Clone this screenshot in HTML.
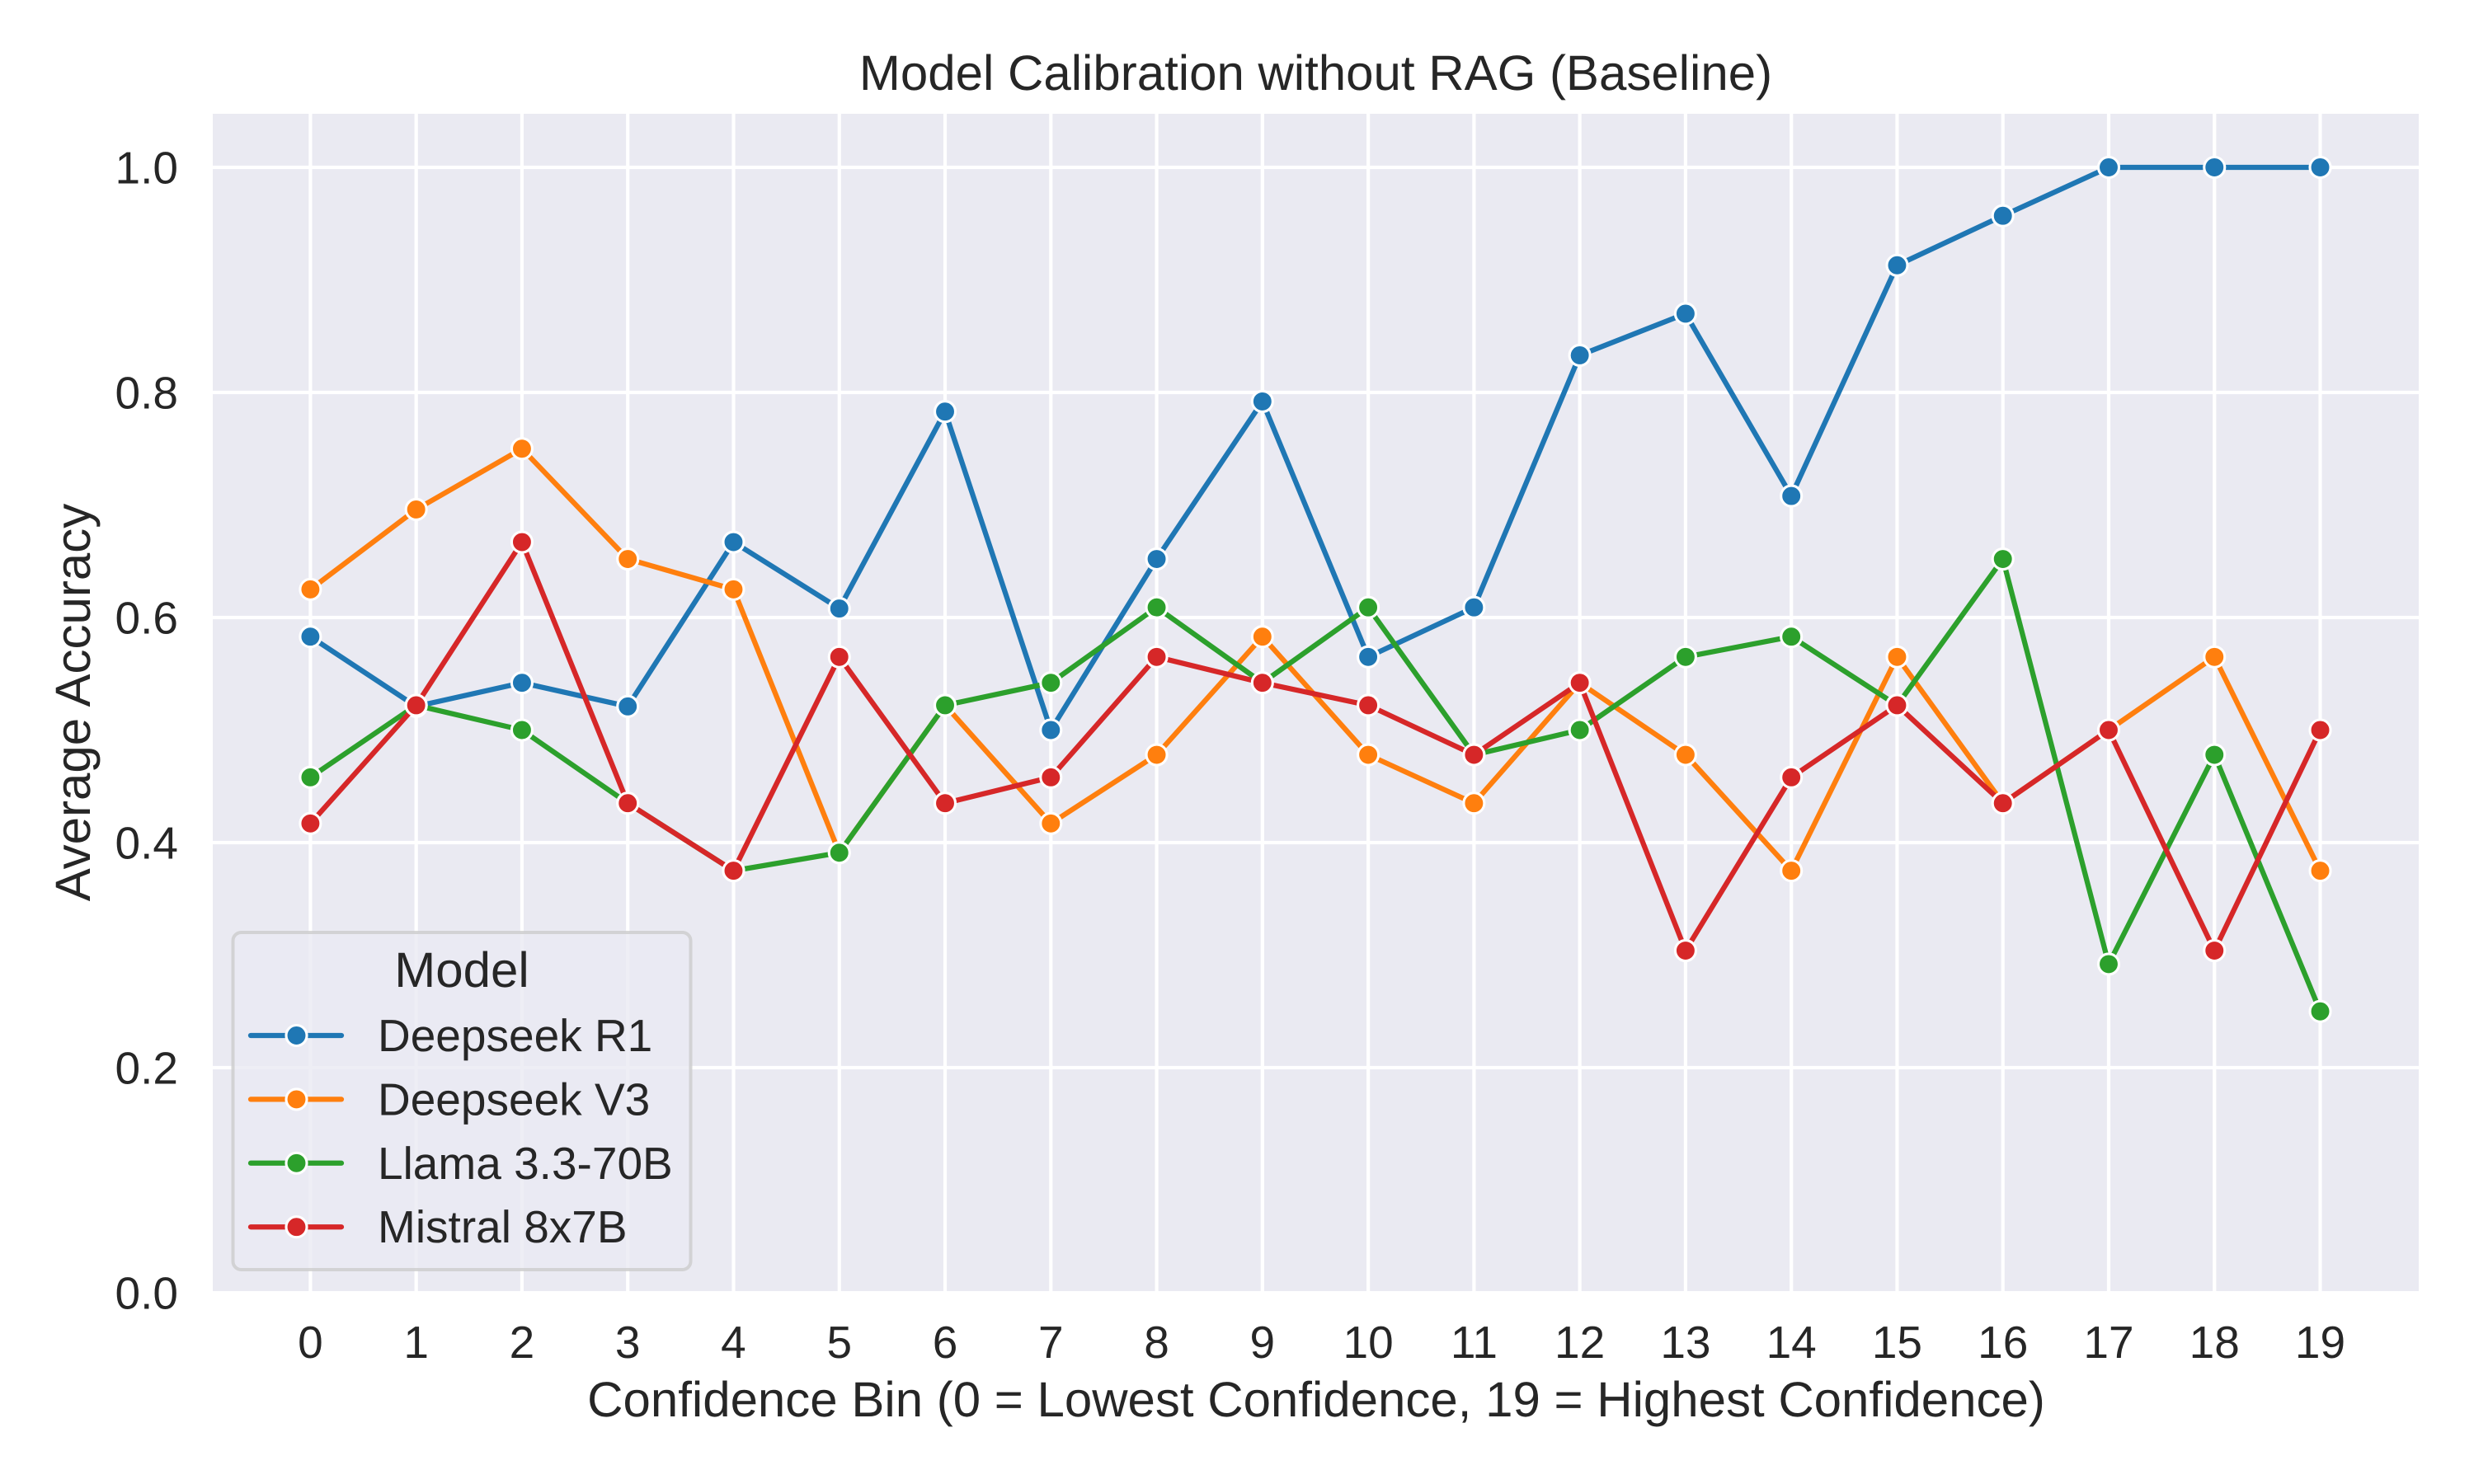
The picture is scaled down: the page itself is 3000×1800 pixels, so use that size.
<!DOCTYPE html>
<html lang="en">
<head>
<meta charset="utf-8">
<title>Model Calibration without RAG (Baseline)</title>
<style>
html,body{margin:0;padding:0;background:#fff;}
svg{display:block;}
text{font-family:"Liberation Sans",Arial,sans-serif;fill:#262626;text-rendering:geometricPrecision;}
</style>
</head>
<body>
<svg id="chart" xmlns="http://www.w3.org/2000/svg" width="3000" height="1800" viewBox="0 0 3000 1800">
  <rect x="0" y="0" width="3000" height="1800" fill="#ffffff"/>
  <rect x="258" y="138" width="2675" height="1428" fill="#EAEAF2"/>
  <g id="grid"></g>
  <g id="series"></g>
  <g id="xticks"></g>
  <g id="yticks"></g>
  <text x="1595.5" y="109" font-size="60" text-anchor="middle">Model Calibration without RAG (Baseline)</text>
  <text x="1596" y="1718" font-size="60" text-anchor="middle">Confidence Bin (0 = Lowest Confidence, 19 = Highest Confidence)</text>
  <text transform="translate(109 852) rotate(-90)" font-size="60" text-anchor="middle">Average Accuracy</text>
  <g id="legend">
    <rect x="282.5" y="1131" width="555" height="409" rx="10" ry="10" fill="#EAEAF2" fill-opacity="0.8" stroke="#cccccc" stroke-opacity="0.8" stroke-width="4"/>
    <text x="560" y="1197" font-size="60" text-anchor="middle">Model</text>
  </g>
</svg>
<script>
const categories = [0,1,2,3,4,5,6,7,8,9,10,11,12,13,14,15,16,17,18,19];
const yTickValues = [0,0.2,0.4,0.6,0.8,1.0];
const yTickLabels = ["0.0","0.2","0.4","0.6","0.8","1.0"];
const seriesNames = ["Deepseek R1","Deepseek V3","Llama 3.3-70B","Mistral 8x7B"];
const seriesColors = ["#1f77b4","#ff7f0e","#2ca02c","#d62728"];
const deepseekR1 = [0.583,0.521,0.542,0.521,0.667,0.608,0.783,0.5,0.652,0.792,0.565,0.609,0.833,0.87,0.708,0.913,0.957,1.0,1.0,1.0];
const deepseekV3 = [0.625,0.696,0.75,0.652,0.625,0.391,0.522,0.417,0.478,0.583,0.478,0.435,0.542,0.478,0.375,0.565,0.435,0.5,0.565,0.375];
const llama = [0.458,0.522,0.5,0.435,0.375,0.391,0.522,0.542,0.609,0.542,0.609,0.478,0.5,0.565,0.583,0.522,0.652,0.292,0.478,0.25];
const mistral = [0.417,0.522,0.667,0.435,0.375,0.565,0.435,0.458,0.565,0.542,0.522,0.478,0.542,0.304,0.458,0.522,0.435,0.5,0.304,0.5];

const NS = "http://www.w3.org/2000/svg";
const allSeries = [deepseekR1, deepseekV3, llama, mistral];
function xScale(v){ return 376.4 + v * 128.27; }
function yScale(v){ return 203 + (1 - v) * 1365; }
function make(tag, attrs, parent){
  const el = document.createElementNS(NS, tag);
  for (const k in attrs) el.setAttribute(k, attrs[k]);
  parent.appendChild(el);
  return el;
}
const gridG = document.getElementById("grid");
const seriesG = document.getElementById("series");
const xG = document.getElementById("xticks");
const yG = document.getElementById("yticks");
const legendG = document.getElementById("legend");

categories.forEach(function(c){
  const x = xScale(c);
  const line = make("line", {x1:x, x2:x, y1:138, y2:1566, stroke:"#ffffff", "stroke-width":4.17}, gridG);
  
  
  const t = make("text", {x:x, y:1647, "font-size":55, "text-anchor":"middle"}, xG);
  t.textContent = String(c);
  
  
});
yTickValues.forEach(function(v, i){
  const y = yScale(v);
  if (v > 0) {
    const line = make("line", {x1:258, x2:2933, y1:y, y2:y, stroke:"#ffffff", "stroke-width":4.17}, gridG);
    
    
  }
  const t = make("text", {x:216, y:y + 19.5, "font-size":55, "text-anchor":"end"}, yG);
  t.textContent = yTickLabels[i];
  
  
});
allSeries.forEach(function(vals, s){
  const g = make("g", {}, seriesG);
  
  
  const pts = vals.map(function(v, i){ return xScale(categories[i]).toFixed(2) + "," + yScale(v).toFixed(2); }).join(" ");
  const pl = make("polyline", {points:pts, fill:"none", stroke:seriesColors[s], "stroke-width":6.25, "stroke-linejoin":"round", "stroke-linecap":"round"}, g);
  
  
  vals.forEach(function(v, i){
    const c = make("circle", {cx:xScale(categories[i]), cy:yScale(v), r:12.5, fill:seriesColors[s], stroke:"#ffffff", "stroke-width":3.1}, g);
    
    
  });
});
seriesNames.forEach(function(name, i){
  const y = 1256 + i * 77.4;
  const g = make("g", {}, legendG);
  
  
  const l = make("line", {x1:304, x2:414, y1:y, y2:y, stroke:seriesColors[i], "stroke-width":6.25, "stroke-linecap":"round"}, g);
  
  
  const c = make("circle", {cx:359.5, cy:y, r:12.5, fill:seriesColors[i], stroke:"#ffffff", "stroke-width":3.1}, g);
  
  
  const t = make("text", {x:458, y:y + 19, "font-size":55}, g);
  t.textContent = name;
  
  
});
</script>
</body>
</html>
